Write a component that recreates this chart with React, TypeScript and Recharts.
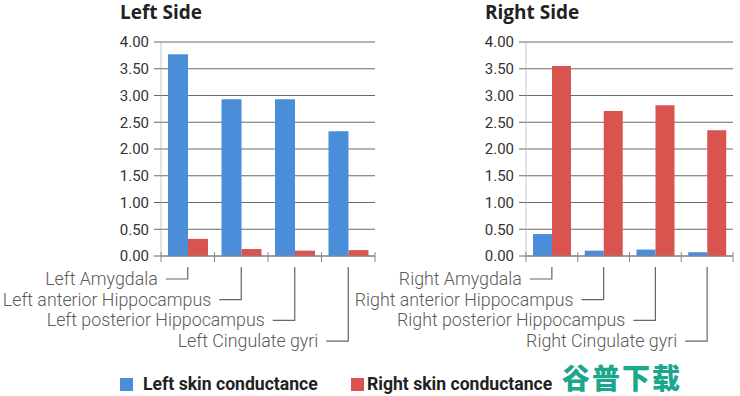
import React from 'react'
import { BarChart, Bar, XAxis, YAxis, CartesianGrid } from 'recharts'

const leftCategories = ['Left Amygdala', 'Left anterior Hippocampus', 'Left posterior Hippocampus', 'Left Cingulate gyri']
const rightCategories = ['Right Amygdala', 'Right anterior Hippocampus', 'Right posterior Hippocampus', 'Right Cingulate gyri']

// skin conductance per region
const leftSideLeftSC = [3.77, 2.93, 2.93, 2.33]
const leftSideRightSC = [0.32, 0.13, 0.1, 0.11]
const rightSideLeftSC = [0.41, 0.1, 0.12, 0.07]
const rightSideRightSC = [3.55, 2.71, 2.82, 2.35]

const yTicks = [0, 0.5, 1, 1.5, 2, 2.5, 3, 3.5, 4]
const seriesNames = ['Left skin conductance', 'Right skin conductance']

const BLUE = '#4a8dd8'
const RED = '#d9534f'
const TEXT = '#5a5a5a'

const PLOT_TOP = 42
const PLOT_BOTTOM = 256
const X_AXIS_H = 104
const Y_AXIS_W = 50

function makeData(cats: string[], a: number[], b: number[]) {
  return cats.map((c, i) => ({ name: c, lsc: a[i], rsc: b[i] }))
}

const CategoryTick = ({ x, y, payload, index, band }: any) => {
  const rowY = y + 23 + index * 20.7
  return (
    <g>
      {/* boundary ticks on the axis */}
      {index === 0 && (
        <line x1={x - band / 2} x2={x - band / 2} y1={y - 4} y2={y + 6} stroke="#888" />
      )}
      <line x1={x + band / 2} x2={x + band / 2} y1={y - 4} y2={y + 6} stroke="#888" />
      <path d={`M${x},${y + 11} L${x},${rowY} L${x - 22},${rowY}`} fill="none" stroke="#666" strokeWidth={1.2} />
      <text x={x - 30} y={rowY + 6} textAnchor="end" fill={TEXT} fontSize={17.8} fontFamily="Roboto" fontWeight={300}>
        {payload.value}
      </text>
    </g>
  )
}

function Panel({ title, data, left, width, axisX, plotRight }: any) {
  const plotW = plotRight - axisX
  const band = plotW / data.length
  return (
    <div style={{ position: 'absolute', left, top: 0, width, height: 396 }}>
      <div
        style={{
          position: 'absolute',
          left: axisX - 41,
          top: -1,
          fontFamily: 'Open Sans',
          fontWeight: 700,
          fontSize: 19,
          color: '#222',
          whiteSpace: 'nowrap',
        }}
      >
        {title}
      </div>
      <BarChart
        width={width}
        height={PLOT_BOTTOM + X_AXIS_H}
        data={data}
        margin={{ top: PLOT_TOP, left: axisX - Y_AXIS_W, right: width - plotRight, bottom: 0 }}
        barCategoryGap={7}
        barGap={0}
        style={{ overflow: 'visible' }}
      >
        <CartesianGrid vertical={false} stroke="#6a6a6a" strokeWidth={1} />
        <XAxis
          dataKey="name"
          height={X_AXIS_H}
          interval={0}
          tickLine={false}
          tickSize={0}
          tickMargin={0}
          axisLine={{ stroke: '#888' }}
          tick={<CategoryTick band={band} />}
        />
        <YAxis
          width={Y_AXIS_W}
          domain={[0, 4]}
          ticks={yTicks}
          interval={0}
          tickFormatter={(v: number) => v.toFixed(2)}
          tickSize={7}
          tickMargin={5}
          tickLine={{ stroke: '#6a6a6a' }}
          axisLine={{ stroke: '#c8c8c8' }}
          tick={{ fill: '#333', fontSize: 15, fontFamily: 'Roboto' }}
        />
        <Bar dataKey="lsc" name={seriesNames[0]} fill={BLUE} isAnimationActive={false} />
        <Bar dataKey="rsc" name={seriesNames[1]} fill={RED} isAnimationActive={false} />
      </BarChart>
    </div>
  )
}

export default function App() {
  const legendItem = (label: string, color: string, x: number, gap: number) => (
    <div style={{ position: 'absolute', left: x, top: 374, display: 'flex', alignItems: 'center', whiteSpace: 'nowrap' }}>
      <div style={{ width: 13, height: 13, background: color, marginRight: gap }} />
      <span style={{ fontFamily: 'Roboto', fontWeight: 700, fontSize: 17.6, color: '#222' }}>{label}</span>
    </div>
  )
  return (
    <div style={{ position: 'absolute', left: 0, top: 0, width: 740, height: 396, background: '#fff', overflow: 'hidden' }}>
      <Panel
        title="Left Side"
        data={makeData(leftCategories, leftSideLeftSC, leftSideRightSC)}
        left={0}
        width={380}
        axisX={161}
        plotRight={375}
      />
      <Panel
        title="Right Side"
        data={makeData(rightCategories, rightSideLeftSC, rightSideRightSC)}
        left={340}
        width={400}
        axisX={186}
        plotRight={393}
      />
      {legendItem(seriesNames[0], BLUE, 120, 10)}
      {legendItem(seriesNames[1], RED, 351, 3)}
      <div
        style={{
          position: 'absolute',
          left: 562,
          top: 357,
          fontFamily: 'Noto Sans CJK SC',
          fontWeight: 900,
          fontSize: 28,
          color: '#1aa78c',
          letterSpacing: 2,
          whiteSpace: 'nowrap',
        }}
      >
        谷普下载
      </div>
    </div>
  )
}
